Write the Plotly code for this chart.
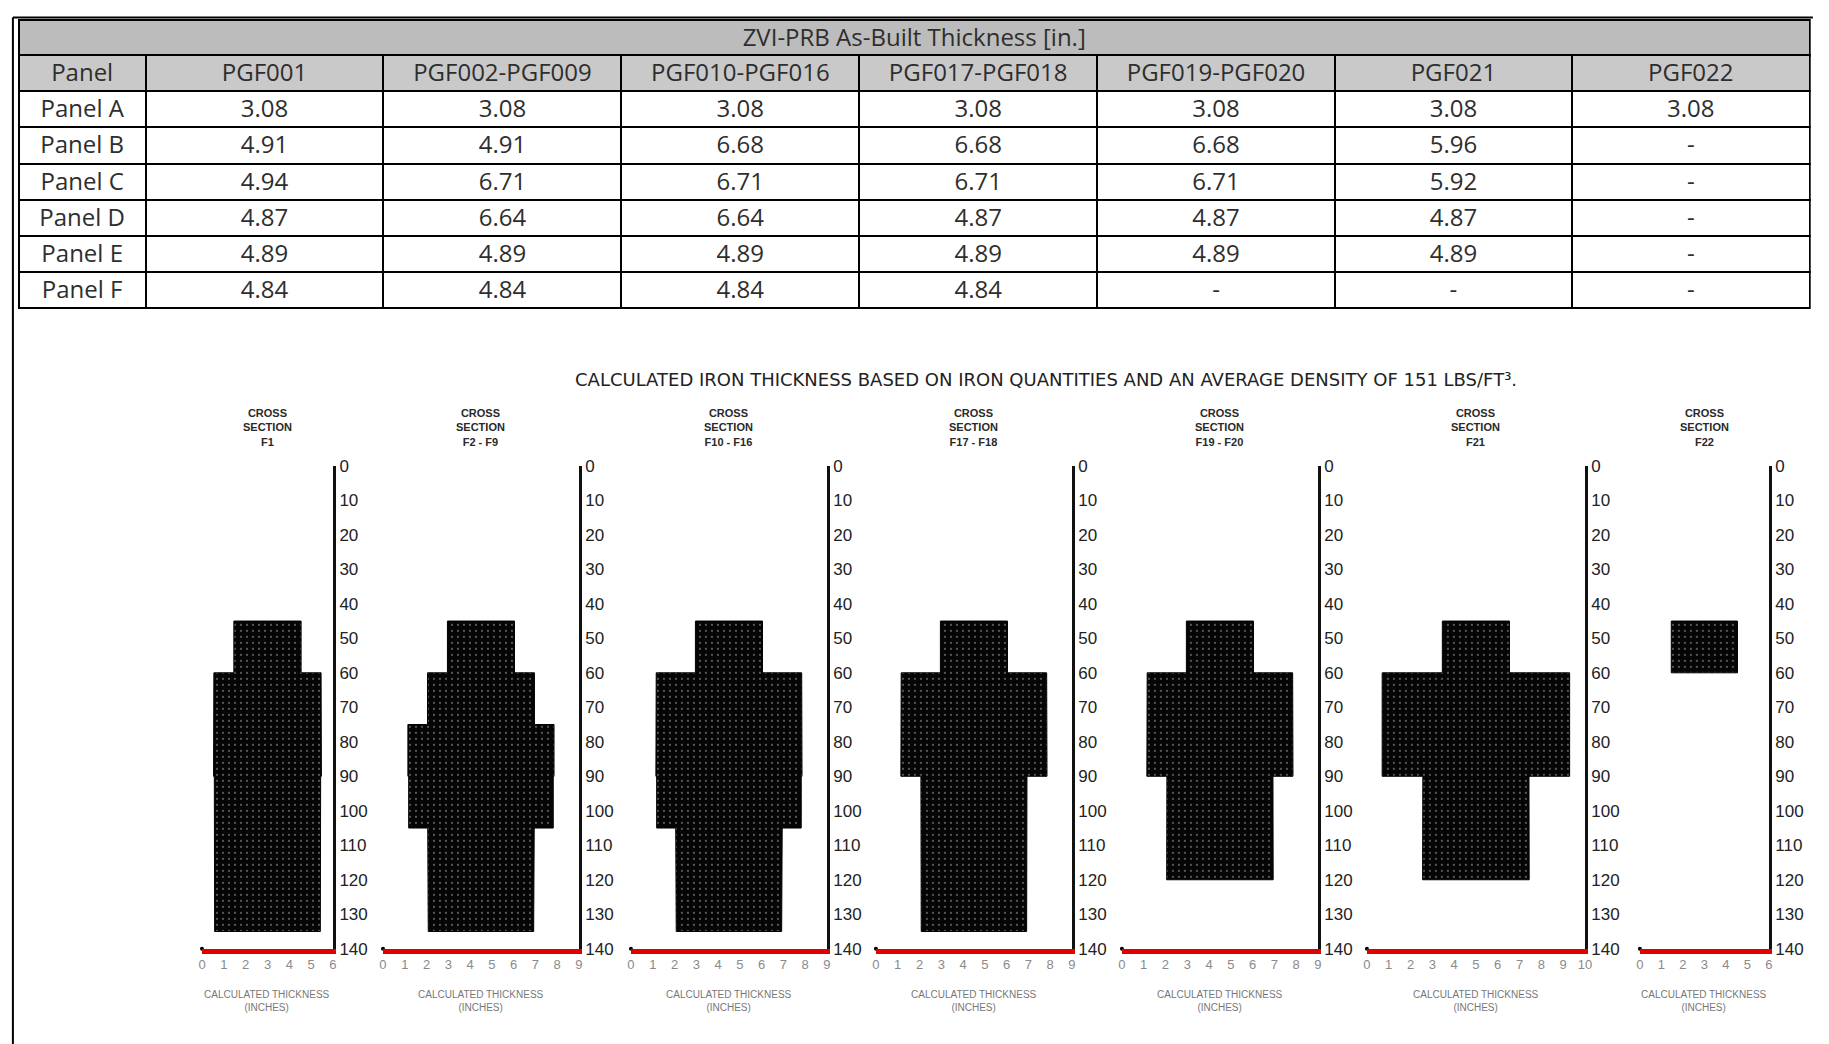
import plotly.graph_objects as go

W, H = 1829, 1044              # browser window
FW, FH = 1813, 1046            # figure size
# measured mapping from figure pixels to photographed pixels
SHOW_X0, SHOW_SX = 12, 0.994
SHOW_Y0, SHOW_SY = 18, 0.98

# ---------------- table data ----------------
table_title = "ZVI-PRB As-Built Thickness [in.]"
panel_labels = ["Panel A", "Panel B", "Panel C", "Panel D", "Panel E", "Panel F"]
pgf_columns = ["PGF001", "PGF002-PGF009", "PGF010-PGF016", "PGF017-PGF018",
               "PGF019-PGF020", "PGF021", "PGF022"]
pgf001 = ["3.08", "4.91", "4.94", "4.87", "4.89", "4.84"]
pgf002_009 = ["3.08", "4.91", "6.71", "6.64", "4.89", "4.84"]
pgf010_016 = ["3.08", "6.68", "6.71", "6.64", "4.89", "4.84"]
pgf017_018 = ["3.08", "6.68", "6.71", "4.87", "4.89", "4.84"]
pgf019_020 = ["3.08", "6.68", "6.71", "4.87", "4.89", "-"]
pgf021 = ["3.08", "5.96", "5.92", "4.87", "4.89", "-"]
pgf022 = ["3.08", "-", "-", "-", "-", "-"]

# ---------------- cross-section data ----------------
chart_title = ("CALCULATED IRON THICKNESS BASED ON IRON QUANTITIES AND AN "
               "AVERAGE DENSITY OF 151 LBS/FT³.")
section_names = ["F1", "F2 - F9", "F10 - F16", "F17 - F18", "F19 - F20", "F21", "F22"]
section_xmax = [6, 9, 9, 9, 9, 10, 6]
layer_top = [45, 60, 75, 90, 105, 120]
layer_bottom = [60, 75, 90, 105, 120, 135]
depth_ticks = [0, 10, 20, 30, 40, 50, 60, 70, 80, 90, 100, 110, 120, 130, 140]
f1_thickness = [3.08, 4.91, 4.94, 4.87, 4.89, 4.84]
f2_f9_thickness = [3.08, 4.91, 6.71, 6.64, 4.89, 4.84]
f10_f16_thickness = [3.08, 6.68, 6.71, 6.64, 4.89, 4.84]
f17_f18_thickness = [3.08, 6.68, 6.71, 4.87, 4.89, 4.84]
f19_f20_thickness = [3.08, 6.68, 6.71, 4.87, 4.89, None]
f21_thickness = [3.08, 8.6, 8.6, 4.87, 4.89, None]
f22_thickness = [3.08, None, None, None, None, None]
section_thickness = [f1_thickness, f2_f9_thickness, f10_f16_thickness,
                     f17_f18_thickness, f19_f20_thickness, f21_thickness,
                     f22_thickness]

# ---------------- layout (target picture pixels) ----------------
section_px = [(202, 333), (383, 579), (631, 827), (876, 1072),
              (1122, 1318), (1367, 1585), (1640, 1769)]
plot_top, plot_bottom = 466, 948


def fx(X):
    return (X - SHOW_X0) / SHOW_SX


def fy(Y):
    return (Y - SHOW_Y0) / SHOW_SY


def px(X):
    return min(max(fx(X) / FW, 0.0005), 0.9995)


def py(Y):
    return min(max(1 - fy(Y) / FH, 0.0005), 0.9995)


fig = go.Figure()

TABLE_FONT = dict(family="Open Sans, Noto Sans, sans-serif", size=24, color="#2e2e2e")
tx0, tx1 = 18.7, 1810
title_h = fy(56) - fy(21)
row_h = (fy(304) - fy(56)) / 7

fig.add_trace(go.Table(
    domain=dict(x=[px(tx0), px(tx1)], y=[py(66), py(21)]),
    columnwidth=[1],
    header=dict(values=[table_title], height=title_h, fill_color="#bcbcbc",
                line=dict(color="black", width=2), font=TABLE_FONT, align="center"),
    cells=dict(values=[[]], height=1, line=dict(color="black", width=0)),
))

fig.add_trace(go.Table(
    domain=dict(x=[px(tx0), px(tx1)], y=[py(330), py(56)]),
    columnwidth=[127, 238, 238, 238, 238, 238, 237, 238],
    header=dict(values=["Panel"] + pgf_columns, height=row_h, fill_color="#c9c9c9",
                line=dict(color="black", width=2), font=TABLE_FONT, align="center"),
    cells=dict(values=[panel_labels, pgf001, pgf002_009, pgf010_016, pgf017_018,
                       pgf019_020, pgf021, pgf022],
               height=row_h, fill_color="white",
               line=dict(color="black", width=2), font=TABLE_FONT, align="center"),
))

NARROW = "Liberation Sans Narrow, Arial Narrow, Liberation Sans, sans-serif"
layout_axes = {}
annotations = []
for i, (name, xmax, thick) in enumerate(zip(section_names, section_xmax, section_thickness)):
    n = i + 1
    centre = xmax / 2
    right_x, right_y, left_x, left_y = [], [], [], []
    for t, top, bot in zip(thick, layer_top, layer_bottom):
        if t is None:
            continue
        right_x += [centre + t / 2, centre + t / 2]
        right_y += [top, bot]
        left_x += [centre - t / 2, centre - t / 2]
        left_y += [top, bot]
    poly_x = right_x + left_x[::-1] + right_x[:1]
    poly_y = right_y + left_y[::-1] + right_y[:1]
    fig.add_trace(go.Scatter(
        x=poly_x, y=poly_y, mode="lines", fill="toself",
        xaxis=f"x{n}", yaxis=f"y{n}",
        line=dict(color="black", width=1),
        fillcolor="#050505",
        fillpattern=dict(shape=".", fgcolor="#ffffff", fgopacity=0.4,
                         size=6, solidity=0.1, fillmode="overlay"),
        showlegend=False, hoverinfo="skip",
    ))
    fig.add_trace(go.Scatter(
        x=[0], y=[140], mode="markers", xaxis=f"x{n}", yaxis=f"y{n}",
        marker=dict(color="black", size=4), cliponaxis=False,
        showlegend=False, hoverinfo="skip",
    ))
    x0, x1 = section_px[i]
    layout_axes[f"xaxis{n}"] = dict(
        domain=[px(x0), px(x1)], range=[0, xmax], anchor=f"y{n}",
        tickvals=list(range(xmax + 1)), showline=True, linecolor="#e00000",
        linewidth=5, ticks="", showgrid=False, zeroline=False, fixedrange=True,
        tickfont=dict(size=13, color="#8a8a8a", family=NARROW),
    )
    layout_axes[f"yaxis{n}"] = dict(
        domain=[py(plot_bottom), py(plot_top)], range=[140, 0], anchor=f"x{n}",
        side="right", showline=True, linecolor="#111111", linewidth=3,
        tickvals=depth_ticks, ticks="", showgrid=False, zeroline=False,
        fixedrange=True,
        tickfont=dict(size=17, color="#222222", family="Liberation Sans, Arial, sans-serif"),
    )
    cx = px((x0 + x1) / 2)
    annotations.append(dict(
        x=cx, y=py(428), xref="paper", yref="paper", showarrow=False,
        xanchor="center", yanchor="middle",
        text=f"<b>CROSS<br>SECTION<br>{name}</b>", align="center",
        font=dict(size=11, color="#2a2a2a", family=NARROW),
    ))
    annotations.append(dict(
        x=cx, y=py(1000), xref="paper", yref="paper", showarrow=False,
        xanchor="center", yanchor="middle",
        text="CALCULATED THICKNESS<br>(INCHES)", align="center",
        font=dict(size=10, color="#777777", family=NARROW),
    ))

annotations.append(dict(
    x=px(1046), y=py(380), xref="paper", yref="paper", showarrow=False,
    xanchor="center", yanchor="middle",
    text=chart_title, font=dict(size=18, color="#222222",
                                family="DejaVu Sans, Liberation Sans, sans-serif"),
))

fig.update_layout(
    width=FW, height=FH, margin=dict(l=0, r=0, t=0, b=0),
    paper_bgcolor="white", plot_bgcolor="white", showlegend=False,
    annotations=annotations,
    shapes=[
        dict(type="line", xref="paper", yref="paper", x0=px(6), x1=px(1813),
             y0=py(9), y1=py(9), line=dict(color="black", width=2)),
        dict(type="line", xref="paper", yref="paper", x0=px(6), x1=px(6),
             y0=py(9), y1=0, line=dict(color="black", width=2)),
    ],
    **layout_axes,
)

fig.write_html("out.html")
